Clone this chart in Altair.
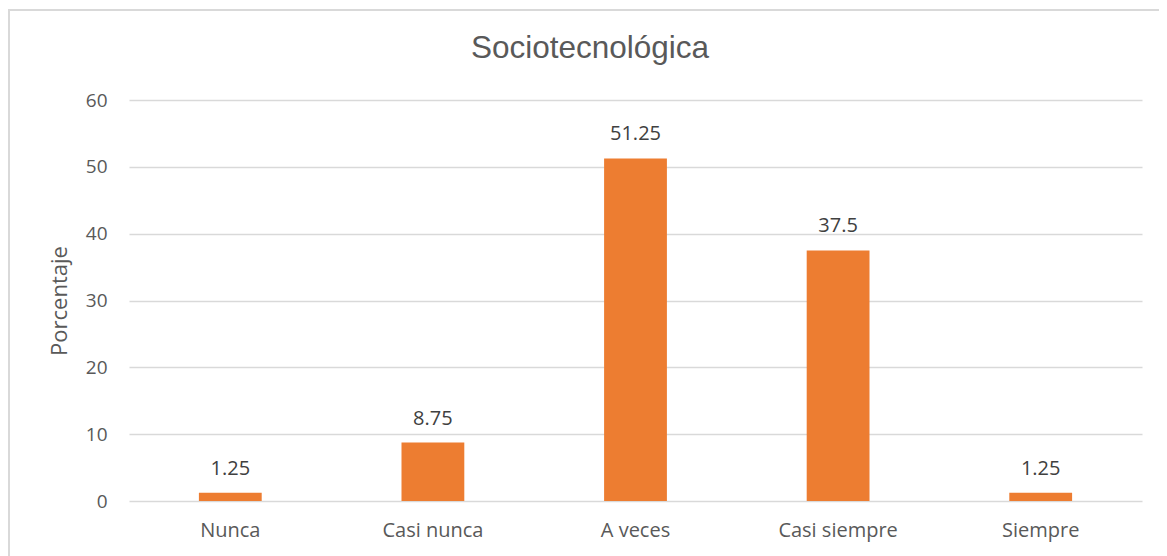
import altair as alt
import pandas as pd

title_text = "Sociotecnológica"
categories = ["Nunca", "Casi nunca", "A veces", "Casi siempre", "Siempre"]
values = [1.25, 8.75, 51.25, 37.5, 1.25]
labels = ["1.25", "8.75", "51.25", "37.5", "1.25"]

df = pd.DataFrame({"cat": categories, "val": values, "lab": labels})
tdf = pd.DataFrame({"t": [title_text]})

FONT = "Open Sans"
TXT = "#595959"

x = alt.X("cat:N", sort=categories, title=None,
          scale=alt.Scale(paddingInner=0.69, paddingOuter=0.345),
          axis=alt.Axis(labelAngle=0, labelFontSize=20, labelColor=TXT, labelFont=FONT,
                        labelPadding=19, domain=False, ticks=False, grid=False))
y = alt.Y("val:Q", title="Porcentaje",
          scale=alt.Scale(domain=[0, 60], nice=False),
          axis=alt.Axis(values=[0, 10, 20, 30, 40, 50, 60], labelFontSize=19, labelColor=TXT,
                        labelFont=FONT, labelPadding=22, domain=False, ticks=False,
                        gridColor="#D9D9D9", gridWidth=1.3, titleFontSize=22, titleFont=FONT,
                        titleColor=TXT, titleFontWeight="normal", titlePadding=14))

frame = alt.Chart(df).mark_rect(fill=None, stroke="#D9D9D9", strokeWidth=2).encode(
    x=alt.value(-120), x2=alt.value(1100), y=alt.value(-90), y2=alt.value(470)
)

bars = alt.Chart(df).mark_bar(color="#ED7D31").encode(x=x, y=y)
text = alt.Chart(df).mark_text(dy=-18, baseline="alphabetic", fontSize=20, color="#404040",
                               font=FONT).encode(
    x=alt.X("cat:N", sort=categories), y="val:Q", text="lab:N")

title = alt.Chart(tdf).mark_text(fontSize=31.5, font="Liberation Sans", color=TXT,
                                 baseline="alphabetic", align="center").encode(
    x=alt.value(461), y=alt.value(-42), text="t:N")

chart = alt.layer(frame, bars, text, title).properties(
    width=1013, height=401,
    autosize=alt.AutoSizeParams(type="none"),
    padding={"left": 121, "top": 92, "right": 17, "bottom": 55},
).configure_view(stroke=None)

chart.save("out.html", embed_options={"renderer": "svg", "actions": False})
